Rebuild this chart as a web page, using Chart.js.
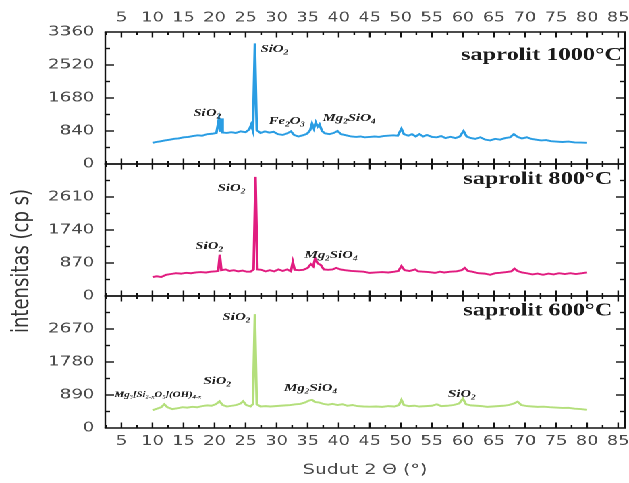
<!DOCTYPE html>
<html>
<head>
<meta charset="utf-8">
<script src="https://cdn.jsdelivr.net/npm/chart.js@4/dist/chart.umd.min.js"></script>
<style>
  html, body { margin: 0; padding: 0; background: #fff; overflow: hidden; }
  /* the figure is drawn narrow and widened, like the original scan */
  #wrap { position: relative; width: 466px; height: 483px; transform: scaleX(1.3498); transform-origin: 0 0; }
  #frame { position: absolute; left: 0; top: 0; width: 466px; height: 483px; pointer-events: none; }
</style>
</head>
<body>
<div id="wrap">
  <canvas id="xrd" width="466" height="483"></canvas>
  <canvas id="frame"></canvas>
</div>
<script>
// XRD saprolit, 2 theta (deg) vs intensity (cps)
const twoTheta1000 = [10, 10.6, 11.2, 12, 12.8, 13.5, 14.2, 15, 15.8, 16.5, 17.3, 18, 18.8, 19.6, 20.3, 20.7, 20.9, 21.1, 21.3, 22, 22.7, 23.4, 24.2, 25, 25.6, 25.9, 26.2, 26.5, 26.8, 27.4, 28.1, 28.8, 29.5, 30.2, 31, 31.7, 32.3, 32.8, 33.5, 34.2, 34.9, 35.4, 35.7, 36, 36.3, 36.6, 36.9, 37.3, 37.8, 38.5, 39.2, 39.8, 40.4, 41.2, 42, 42.8, 43.5, 44.2, 45, 45.8, 46.5, 47.2, 48, 48.8, 49.5, 50.1, 50.5, 51.2, 51.8, 52.4, 53, 53.6, 54.2, 55, 55.8, 56.5, 57.2, 58, 58.8, 59.5, 60.1, 60.6, 61.3, 62, 62.8, 63.6, 64.4, 65.2, 66, 66.8, 67.6, 68.2, 68.8, 69.5, 70.3, 71, 71.8, 72.6, 73.4, 74.2, 75, 76, 77, 78, 79, 80];
const cps1000 = [540, 560, 575, 600, 620, 640, 650, 680, 690, 710, 730, 720, 760, 770, 790, 1140, 820, 1160, 800, 790, 810, 790, 830, 810, 880, 1000, 840, 3070, 860, 790, 830, 800, 820, 760, 740, 780, 830, 740, 700, 730, 770, 860, 1030, 900, 1060, 950, 1010, 840, 780, 760, 790, 840, 760, 730, 700, 690, 700, 680, 690, 700, 690, 710, 720, 730, 720, 900, 760, 720, 760, 700, 760, 700, 740, 690, 680, 710, 660, 690, 660, 700, 840, 700, 660, 640, 680, 620, 600, 640, 620, 660, 680, 760, 690, 650, 680, 640, 620, 600, 610, 580, 570, 560, 570, 550, 545, 540];

const twoTheta800 = [10, 10.7, 11.4, 12.2, 13, 13.8, 14.6, 15.4, 16.2, 17, 17.8, 18.6, 19.4, 20.2, 20.6, 20.85, 21.1, 21.8, 22.4, 23.1, 23.8, 24.5, 25.2, 25.8, 26.3, 26.6, 26.9, 27.5, 28.2, 28.9, 29.6, 30.3, 31, 31.7, 32.3, 32.6, 32.9, 33.6, 34.3, 35, 35.5, 35.9, 36.2, 36.6, 37.1, 37.6, 38.3, 39, 39.6, 40.3, 41, 42, 43, 44, 45, 46, 47, 48, 49, 49.6, 50.1, 50.6, 51.4, 52.3, 52.8, 53.6, 54.5, 55.5, 56.3, 57, 58, 59, 59.8, 60.3, 60.8, 61.5, 62.5, 63.5, 64.4, 65.2, 66, 67, 67.8, 68.3, 68.8, 69.5, 70.3, 71.2, 72, 72.9, 73.8, 74.6, 75.5, 76.4, 77.3, 78.2, 79.2, 80];
const cps800 = [500, 520, 500, 560, 580, 600, 590, 610, 600, 620, 630, 620, 640, 650, 660, 1090, 680, 700, 660, 680, 650, 670, 640, 640, 700, 3140, 700, 690, 650, 680, 650, 700, 660, 700, 650, 900, 690, 680, 690, 740, 840, 780, 990, 860, 820, 700, 690, 700, 740, 700, 680, 660, 650, 640, 610, 620, 630, 620, 640, 660, 790, 680, 660, 700, 650, 640, 630, 610, 640, 620, 640, 650, 680, 740, 660, 640, 600, 590, 560, 600, 610, 630, 650, 720, 660, 620, 600, 570, 590, 560, 590, 570, 600, 580, 600, 580, 600, 620];

const twoTheta600 = [10, 10.7, 11.4, 11.9, 12.4, 13.2, 14, 14.8, 15.6, 16.4, 17.2, 18, 18.8, 19.5, 20.2, 20.8, 21.3, 22, 22.8, 23.5, 24.2, 24.6, 25.1, 25.8, 26.2, 26.5, 26.8, 27.4, 28.2, 29, 29.8, 30.6, 31.4, 32.2, 33, 33.8, 34.6, 35.2, 35.7, 36.2, 36.8, 37.5, 38.3, 39, 39.8, 40.6, 41.4, 42.2, 43, 44, 45, 46, 47, 48, 49, 49.7, 50.1, 50.5, 51.3, 52.2, 53, 54, 55, 55.8, 56.5, 57.5, 58.5, 59.4, 60, 60.5, 61.3, 62.2, 63, 63.9, 64.8, 65.6, 66.5, 67.4, 68.2, 68.8, 69.4, 70.3, 71.2, 72, 73, 74, 75, 76, 77, 78, 79, 80];
const cps600 = [480, 520, 560, 640, 560, 510, 530, 560, 550, 570, 560, 590, 610, 600, 640, 720, 620, 580, 600, 620, 660, 720, 620, 580, 650, 3070, 640, 580, 590, 580, 590, 600, 610, 620, 640, 650, 690, 740, 760, 700, 690, 650, 630, 650, 620, 640, 600, 620, 590, 580, 575, 580, 570, 590, 580, 620, 760, 620, 590, 600, 580, 590, 600, 640, 590, 600, 620, 660, 790, 640, 610, 600, 590, 570, 580, 590, 600, 620, 660, 710, 620, 590, 580, 570, 575, 560, 550, 540, 545, 520, 510, 490];

// axis ranges
const xMin = 2.4, xMax = 86.1;
const yMax = { y1000: 3360, y800: 3480, y600: 3560 };
const yStep = { y1000: 840, y800: 870, y600: 890 };

const panelNames = { y1000: 'saprolit 1000°C', y800: 'saprolit 800°C', y600: 'saprolit 600°C' };
const panelNameAt = { y1000: [85.65, 2650], y800: [84.05, 2950], y600: [84.05, 3040] };

// phase labels, _x / _{..} = subscript
const phaseLabels = [
  { axis: 'y1000', text: 'SiO_2', at: [27.4, 2850] },
  { axis: 'y1000', text: 'SiO_2', at: [16.6, 1220] },
  { axis: 'y1000', text: 'Fe_2O_3', at: [28.7, 1020] },
  { axis: 'y1000', text: 'Mg_2SiO_4', at: [37.4, 1095] },
  { axis: 'y800', text: 'SiO_2', at: [20.5, 2770] },
  { axis: 'y800', text: 'SiO_2', at: [16.9, 1240] },
  { axis: 'y800', text: 'Mg_2SiO_4', at: [34.5, 1000] },
  { axis: 'y600', text: 'SiO_2', at: [21.3, 2910] },
  { axis: 'y600', text: 'SiO_2', at: [18.2, 1190] },
  { axis: 'y600', text: 'Mg_2SiO_4', at: [31.2, 1000] },
  { axis: 'y600', text: 'Mg_3[Si_{2-x}O_5](OH)_{4-x}', at: [3.9, 840], small: true },
  { axis: 'y600', text: 'SiO_2', at: [57.6, 840] }
];

const sans = '"DejaVu Sans", sans-serif';
const serif = '"Liberation Serif", "Times New Roman", serif';
const grey = '#4a4a4a';
const panels = ['y1000', 'y800', 'y600'];

function toPoints(xs, ys) {
  return xs.map((x, i) => ({ x: x, y: ys[i] }));
}

function trace(label, xs, ys, axis, color) {
  return {
    label: label,
    data: toPoints(xs, ys),
    yAxisID: axis,
    borderColor: color,
    borderWidth: 1.9,
    pointRadius: 0,
    tension: 0
  };
}

function panelAxis(id, weight, showTop) {
  const max = yMax[id];
  return {
    type: 'linear',
    position: 'left',
    stack: 'xrd',
    stackWeight: 1,
    weight: weight,
    min: 0,
    max: max,
    grid: { display: false, drawTicks: false },
    border: { display: false },
    ticks: {
      stepSize: yStep[id],
      padding: 8,
      color: grey,
      font: { family: sans, size: 13.5 },
      callback: v => String(v)
    },
    // lower panels: top value sits under the 0 of the panel above
    afterBuildTicks: s => {
      if (!showTop) s.ticks = s.ticks.filter(t => t.value < max);
    },
    afterFit: s => { s.width = 78; }
  };
}

function drawFormula(ctx, src, x, y, size) {
  const parts = src.split(/(_\{[^}]*\}|_.)/).filter(Boolean);
  let cx = x;
  parts.forEach(p => {
    const sub = p[0] === '_';
    const t = sub ? p.replace(/^_\{?|\}$/g, '') : p;
    ctx.font = 'bold italic ' + (sub ? size * 0.62 : size) + 'px ' + serif;
    ctx.fillText(t, cx, sub ? y + size * 0.22 : y);
    cx += ctx.measureText(t).width;
  });
}

// panel names, phase labels, y title
const xrdText = {
  id: 'xrdText',
  afterDraw(chart) {
    const { ctx, scales } = chart;
    const x = scales.x;
    ctx.save();
    ctx.fillStyle = '#1a1a1a';
    ctx.textAlign = 'right';
    ctx.textBaseline = 'alphabetic';
    ctx.font = 'bold 18px ' + serif;
    panels.forEach(id => {
      const at = panelNameAt[id];
      ctx.fillText(panelNames[id], x.getPixelForValue(at[0]), scales[id].getPixelForValue(at[1]));
    });

    ctx.textAlign = 'left';
    ctx.fillStyle = '#222';
    phaseLabels.forEach(l => {
      const s = scales[l.axis];
      drawFormula(ctx, l.text, x.getPixelForValue(l.at[0]), s.getPixelForValue(l.at[1]), l.small ? 8 : 11);
    });

    ctx.translate(16.3, 261);
    ctx.rotate(-Math.PI / 2);
    ctx.textAlign = 'center';
    ctx.textBaseline = 'middle';
    ctx.fillStyle = '#333';
    ctx.font = '18px ' + sans;
    ctx.fillText('intensitas (cp s)', 0, 0);
    ctx.restore();
  }
};

// panel boxes with inward ticks, on a canvas laid over the chart
function drawFrame(chart) {
  const canvas = document.getElementById('frame');
  const dpr = 2;
  canvas.width = 466 * dpr;
  canvas.height = 483 * dpr;
  const ctx = canvas.getContext('2d');
  ctx.scale(dpr, dpr);
  ctx.fillStyle = '#111';

  const x = chart.scales.x;
  const left = x.getPixelForValue(xMin);
  const right = x.getPixelForValue(xMax);
  panels.forEach(id => {
    const s = chart.scales[id];
    const top = s.getPixelForValue(yMax[id]);
    const bottom = s.getPixelForValue(0);
    ctx.fillRect(left - 0.6, top - 0.75, right - left + 1.2, 1.5);
    ctx.fillRect(left - 0.6, bottom - 0.75, right - left + 1.2, 1.5);
    ctx.fillRect(left - 0.6, top, 1.2, bottom - top);
    ctx.fillRect(right - 0.6, top, 1.2, bottom - top);
    for (let k = 1; k <= 34; k++) {
      const px = x.getPixelForValue(k * 2.5);
      const len = k % 2 === 0 ? 5.5 : 3;
      ctx.fillRect(px - 0.6, bottom - len, 1.2, len);
      ctx.fillRect(px - 0.6, top, 1.2, len);
    }
    for (let k = 1; k < 8; k++) {
      const py = s.getPixelForValue(k * yStep[id] / 2);
      const len = k % 2 === 0 ? 6.5 : 3.5;
      ctx.fillRect(left, py - 0.7, len, 1.4);
      ctx.fillRect(right - len, py - 0.7, len, 1.4);
    }
  });
}

const xTicks = {
  stepSize: 5,
  includeBounds: false,
  autoSkip: false,
  maxRotation: 0,
  color: grey,
  font: { family: sans, size: 13 },
  callback: v => String(v)
};

const chart = new Chart(document.getElementById('xrd'), {
  type: 'line',
  data: {
    datasets: [
      trace('saprolit 1000°C', twoTheta1000, cps1000, 'y1000', '#2a9de3'),
      trace('saprolit 800°C', twoTheta800, cps800, 'y800', '#e11d80'),
      trace('saprolit 600°C', twoTheta600, cps600, 'y600', '#b4df7c')
    ]
  },
  options: {
    responsive: false,
    animation: false,
    devicePixelRatio: 2,
    layout: { padding: { left: 0, right: 3, top: 0, bottom: 0 } },
    plugins: { legend: { display: false }, tooltip: { enabled: false } },
    scales: {
      x: {
        type: 'linear',
        position: 'bottom',
        min: xMin,
        max: xMax,
        grid: { display: false, drawTicks: false },
        border: { display: false },
        ticks: Object.assign({ padding: 6 }, xTicks),
        title: {
          display: true,
          text: 'Sudut 2 Θ (°)',
          color: grey,
          font: { family: sans, size: 14 },
          padding: { top: 4, bottom: 4 }
        },
        afterFit: s => { s.height = 55; s.paddingLeft = 0; s.paddingRight = 0; }
      },
      x2: {
        type: 'linear',
        position: 'top',
        min: xMin,
        max: xMax,
        grid: { display: false, drawTicks: false },
        border: { display: false },
        ticks: Object.assign({ padding: 6 }, xTicks),
        afterFit: s => { s.height = 32; s.paddingLeft = 0; s.paddingRight = 0; }
      },
      y1000: panelAxis('y1000', 3, true),
      y800: panelAxis('y800', 2, false),
      y600: panelAxis('y600', 1, false)
    }
  },
  plugins: [xrdText]
});

drawFrame(chart);
</script>
</body>
</html>
